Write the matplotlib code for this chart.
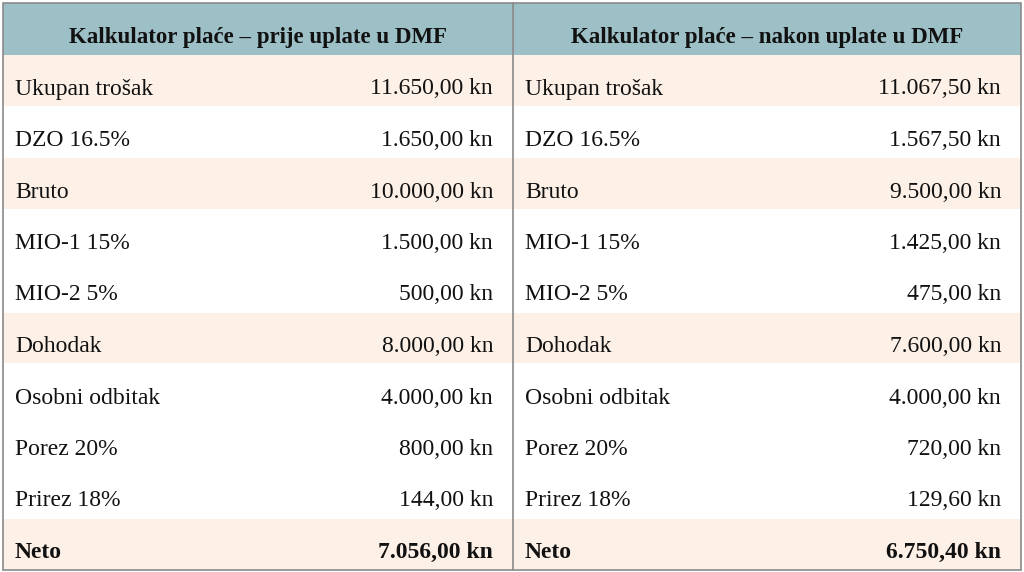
import matplotlib.pyplot as plt
from matplotlib.patches import Rectangle

headers = ["Kalkulator plaće – prije uplate u DMF", "Kalkulator plaće – nakon uplate u DMF"]
labels = ["Ukupan trošak", "DZO 16.5%", "Bruto", "MIO-1 15%", "MIO-2 5%", "Dohodak",
          "Osobni odbitak", "Porez 20%", "Prirez 18%", "Neto"]
before = ["11.650,00 kn", "1.650,00 kn", "10.000,00 kn", "1.500,00 kn", "500,00 kn",
          "8.000,00 kn", "4.000,00 kn", "800,00 kn", "144,00 kn", "7.056,00 kn"]
after = ["11.067,50 kn", "1.567,50 kn", "9.500,00 kn", "1.425,00 kn", "475,00 kn",
         "7.600,00 kn", "4.000,00 kn", "720,00 kn", "129,60 kn", "6.750,40 kn"]
shaded = [True, False, True, False, False, True, False, False, False, True]

W, H = 1024, 572
fig = plt.figure(figsize=(W / 100, H / 100), dpi=100)
ax = fig.add_axes([0, 0, 1, 1])
ax.set_xlim(0, W)
ax.set_ylim(H, 0)
ax.axis("off")

font = "Liberation Serif"
head_top, head_bot = 3, 55
row_h = (570 - head_bot) / len(labels)
cols = [(3, 513), (513, 1021)]

for (x0, x1), title in zip(cols, headers):
    ax.add_patch(Rectangle((x0, head_top), x1 - x0, head_bot - head_top, fc="#9dbfc6", ec="none"))
    ax.text((x0 + x1) / 2, 38, title, ha="center", va="center", fontsize=16.5,
            fontweight="bold", family=font, color="#111111")

for i, lab in enumerate(labels):
    y0 = head_bot + i * row_h
    bold = "bold" if lab == "Neto" else "normal"
    for (x0, x1), vals in zip(cols, [before, after]):
        if shaded[i]:
            ax.add_patch(Rectangle((x0, y0), x1 - x0, row_h - 1, fc="#fdf0e7", ec="none"))
        ax.text(x0 + 12, y0 + 34, lab, ha="left", va="center", fontsize=17,
                fontweight=bold, family=font, color="#111111")
        ax.text(x1 - 20, y0 + 34, vals[i], ha="right", va="center", fontsize=17,
                fontweight=bold, family=font, color="#111111")

ax.add_patch(Rectangle((3, head_top), 1018, 570 - head_top, fc="none", ec="#8a8a8a", lw=1.2))
ax.plot([513, 513], [head_top, 570], color="#8a8a8a", lw=1.2)

fig.savefig("out.png", dpi=100)
